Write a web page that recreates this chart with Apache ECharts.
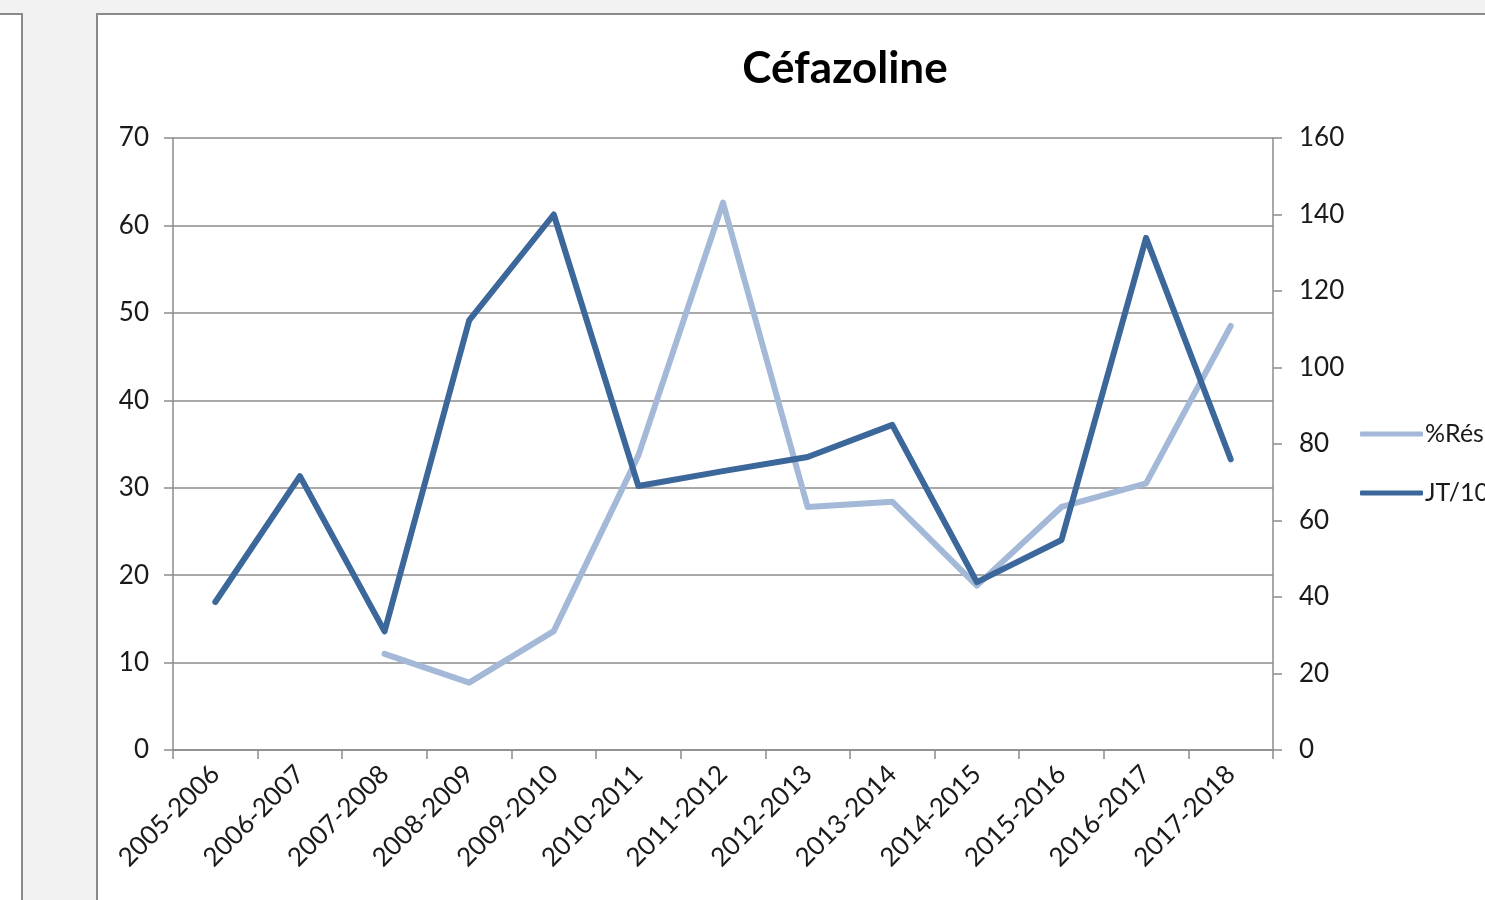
<!DOCTYPE html>
<html>
<head>
<meta charset="utf-8">
<script src="https://cdn.jsdelivr.net/npm/echarts@6/dist/echarts.min.js"></script>
<style>
html,body{margin:0;padding:0;width:1485px;height:900px;overflow:hidden;background:#f2f2f2;}
#p1{position:absolute;left:-3px;top:13px;width:22px;height:900px;background:#fff;border:2px solid #8a8a8a;border-bottom:none;}
#p2{position:absolute;left:96px;top:13px;width:1500px;height:900px;background:#fff;border:2px solid #8a8a8a;border-bottom:none;border-right:none;}
#chart{position:absolute;left:0;top:0;width:1485px;height:900px;}
</style>
</head>
<body>
<div id="p1"></div>
<div id="p2"></div>
<div id="chart"></div>
<script>
const categories = ['2005-2006','2006-2007','2007-2008','2008-2009','2009-2010','2010-2011','2011-2012','2012-2013','2013-2014','2014-2015','2015-2016','2016-2017','2017-2018'];
const resistance = [null, null, 11.0, 7.7, 13.6, 33.7, 62.6, 27.8, 28.4, 18.8, 27.8, 30.5, 48.5];
const jt = [38.7, 71.6, 31.0, 112.3, 140.0, 69.0, 72.9, 76.6, 85.0, 43.9, 54.9, 133.9, 76.0];
const leftTicks = {min: 0, max: 70, interval: 10};
const rightTicks = {min: 0, max: 160, interval: 20};

const font = 'Lato, "Open Sans", sans-serif';
const axisGray = '#8c8c8c';
const labelColor = '#1a1a1a';
const chart = echarts.init(document.getElementById('chart'), null, {renderer: 'canvas'});
chart.setOption({
  backgroundColor: 'transparent',
  animation: false,
  title: {
    text: 'Céfazoline',
    left: 840, top: 42, textAlign: 'center',
    textStyle: {fontFamily: font, fontSize: 44, fontWeight: 'bold', color: '#000'}
  },
  legend: {
    orient: 'vertical',
    left: 1355, top: 415,
    icon: 'roundRect',
    itemWidth: 63, itemHeight: 5, itemGap: 31,
    textStyle: {fontFamily: font, fontSize: 25, lineHeight: 28, color: labelColor, padding: [0,0,0,-3]},
    data: ['%Résistance', 'JT/1000 JH']
  },
  grid: {left: 173, right: 212, top: 138, bottom: 150, containLabel: false},
  xAxis: {
    type: 'category',
    data: categories,
    boundaryGap: true,
    axisLine: {show: true, lineStyle: {color: axisGray, width: 1.5}},
    axisTick: {show: true, length: 9, lineStyle: {color: axisGray, width: 1.5}},
    axisLabel: {rotate: 45, margin: 20, fontFamily: font, fontSize: 26, color: labelColor, interval: 0}
  },
  yAxis: [{
    type: 'value', position: 'left',
    min: leftTicks.min, max: leftTicks.max, interval: leftTicks.interval,
    axisLine: {show: true, lineStyle: {color: axisGray, width: 1.5}},
    axisTick: {show: true, length: 9, lineStyle: {color: axisGray, width: 1.5}},
    splitLine: {show: true, lineStyle: {color: axisGray, width: 1.5}},
    axisLabel: {margin: 24, fontFamily: font, fontSize: 26, color: labelColor}
  }, {
    type: 'value', position: 'right',
    min: rightTicks.min, max: rightTicks.max, interval: rightTicks.interval,
    axisLine: {show: true, lineStyle: {color: axisGray, width: 1.5}},
    axisTick: {show: true, length: 9, lineStyle: {color: axisGray, width: 1.5}},
    splitLine: {show: false},
    axisLabel: {margin: 26, fontFamily: font, fontSize: 26, color: labelColor}
  }],
  series: [{
    name: '%Résistance', type: 'line', yAxisIndex: 0,
    data: resistance, symbol: 'none', connectNulls: false,
    itemStyle: {color: '#a4b9d8'},
    lineStyle: {color: '#a4b9d8', width: 6, cap: 'round', join: 'round'}
  }, {
    name: 'JT/1000 JH', type: 'line', yAxisIndex: 1,
    data: jt, symbol: 'none',
    itemStyle: {color: '#3b679b'},
    lineStyle: {color: '#3b679b', width: 6, cap: 'round', join: 'round'}
  }]
});
</script>
</body>
</html>
